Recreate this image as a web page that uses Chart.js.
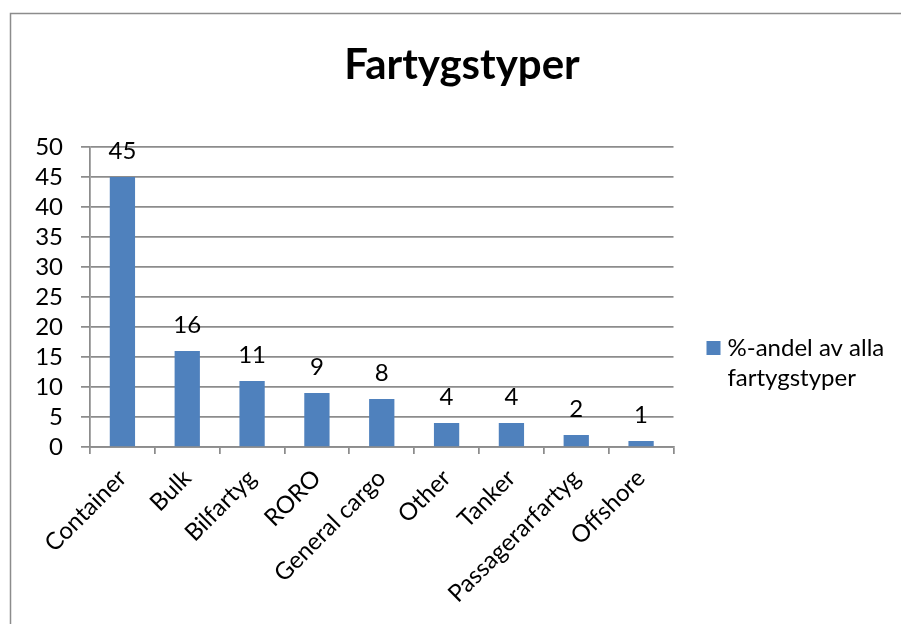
<!DOCTYPE html>
<html>
<head>
<meta charset="utf-8">
<script src="https://cdn.jsdelivr.net/npm/chart.js@4"></script>
<style>
  html, body { margin: 0; padding: 0; background: #fff; }
  #wrap { width: 901px; height: 624px; }
</style>
</head>
<body>
<div id="wrap"><canvas id="c" width="901" height="624"></canvas></div>
<script>
// Fartygstyper – andel per fartygstyp (%)
const categories = ['Container', 'Bulk', 'Bilfartyg', 'RORO', 'General cargo', 'Other', 'Tanker', 'Passagerarfartyg', 'Offshore'];
const shares = [45, 16, 11, 9, 8, 4, 4, 2, 1];
const seriesName = '%-andel av alla fartygstyper';
const legendLines = ['%-andel av alla', 'fartygstyper'];
const yTicks = [0, 5, 10, 15, 20, 25, 30, 35, 40, 45, 50];

const FONT = 'Lato, "Open Sans", sans-serif';
const TEXT_SIZE = 24;
const BAR = '#4F81BD';
const GRID = '#8c8c8c';

// outer frame around the chart
const framePlugin = {
  id: 'frame',
  beforeDraw(chart) {
    const ctx = chart.ctx;
    ctx.save();
    ctx.strokeStyle = '#8c8c8c';
    ctx.lineWidth = 1.5;
    ctx.strokeRect(10.5, 13.5, 1000, 1000);
    ctx.restore();
  }
};

// value labels above each bar
const valueLabels = {
  id: 'valueLabels',
  afterDatasetsDraw(chart) {
    const ctx = chart.ctx;
    const meta = chart.getDatasetMeta(0);
    ctx.save();
    ctx.font = TEXT_SIZE + 'px ' + FONT;
    ctx.fillStyle = '#000';
    ctx.textAlign = 'center';
    ctx.textBaseline = 'alphabetic';
    meta.data.forEach((bar, i) => {
      ctx.fillText(String(chart.data.datasets[0].data[i]), bar.x, bar.y - 18);
    });
    ctx.restore();
  }
};

// legend on the right, wrapped over two lines
const sideLegend = {
  id: 'sideLegend',
  afterDraw(chart) {
    const ctx = chart.ctx;
    const ds = chart.data.datasets[0];
    const x = chart.chartArea.right + 33;
    const y = 341;
    ctx.save();
    ctx.fillStyle = ds.backgroundColor;
    ctx.fillRect(x, y, 14, 14);
    ctx.fillStyle = '#000';
    ctx.font = TEXT_SIZE + 'px ' + FONT;
    ctx.textAlign = 'left';
    ctx.textBaseline = 'alphabetic';
    legendLines.forEach((line, i) => ctx.fillText(line, x + 21, y + 15 + i * 30));
    ctx.restore();
  }
};

new Chart(document.getElementById('c'), {
  type: 'bar',
  data: {
    labels: categories,
    datasets: [{
      label: seriesName,
      data: shares,
      backgroundColor: BAR,
      borderWidth: 0,
      barPercentage: 0.39,
      categoryPercentage: 1
    }]
  },
  options: {
    responsive: false,
    animation: false,
    devicePixelRatio: 1,
    layout: { padding: { left: 23, right: 0, top: 0, bottom: 0 } },
    plugins: {
      legend: { display: false },
      tooltip: { enabled: false },
      title: {
        display: true,
        text: 'Fartygstyper',
        color: '#000',
        font: { family: FONT, size: 42, weight: 'bold', lineHeight: 1.2 },
        padding: { top: 40.4, bottom: 56.2 }
      }
    },
    scales: {
      x: {
        offset: true,
        grid: {
          display: true,
          offset: true,
          drawOnChartArea: false,
          drawTicks: true,
          tickLength: 7,
          color: GRID,
          lineWidth: 1.75
        },
        border: { display: true, color: GRID, width: 1.75 },
        ticks: {
          autoSkip: false,
          maxRotation: 45,
          minRotation: 45,
          padding: 10,
          color: '#000',
          font: { family: FONT, size: TEXT_SIZE }
        },
        afterFit(scale) { scale.height = 177; }
      },
      y: {
        min: 0,
        max: 50,
        afterBuildTicks(scale) { scale.ticks = yTicks.map(v => ({ value: v })); },
        grid: {
          color: GRID,
          lineWidth: 1.75,
          drawTicks: true,
          tickLength: 9
        },
        border: { display: true, color: GRID, width: 1.75 },
        ticks: {
          autoSkip: false,
          padding: 18,
          color: '#000',
          font: { family: FONT, size: TEXT_SIZE }
        },
        afterFit(scale) { scale.width = 67; }
      },
      // empty right-hand band that leaves room for the legend
      side: {
        position: 'right',
        display: true,
        grid: { display: false },
        border: { display: false },
        ticks: { display: false },
        afterFit(scale) { scale.width = 227.5; }
      }
    }
  },
  plugins: [framePlugin, valueLabels, sideLegend]
});
</script>
</body>
</html>
